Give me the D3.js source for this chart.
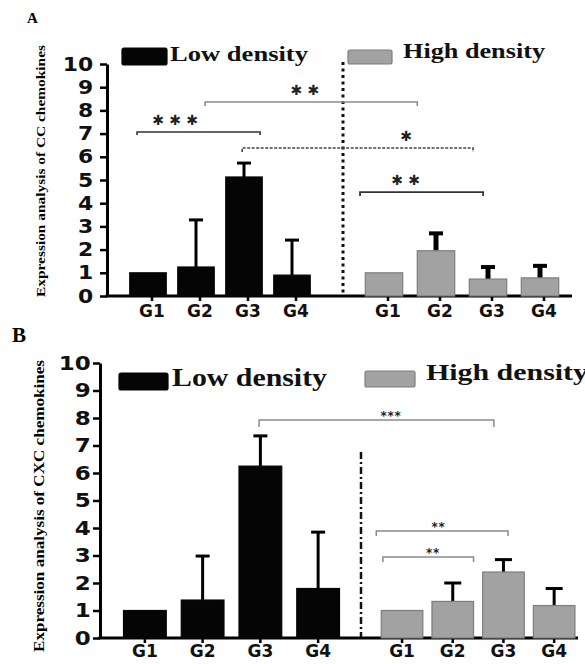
<!DOCTYPE html>
<html><head><meta charset="utf-8">
<script src="https://cdn.jsdelivr.net/npm/d3@7"></script>
<style>body{margin:0;background:#fff}svg{display:block}</style>
</head><body>
<script>
// ---------- data ----------
const categories = ["G1","G2","G3","G4"];
const yTicks = [0,1,2,3,4,5,6,7,8,9,10];
// Panel A: CC chemokines
const ccLow      = [1.00, 1.25, 5.13, 0.90];
const ccLowErr   = [0.00, 2.03, 0.60, 1.51];
const ccHigh     = [1.00, 1.95, 0.73, 0.78];
const ccHighErr  = [0.00, 0.75, 0.52, 0.52];
// Panel B: CXC chemokines
const cxcLow     = [1.00, 1.38, 6.25, 1.80];
const cxcLowErr  = [0.00, 1.60, 1.10, 2.05];
const cxcHigh    = [1.00, 1.33, 2.40, 1.18];
const cxcHighErr = [0.00, 0.67, 0.45, 0.62];
// significance brackets: [group, category, fraction across band]
const sigA = [
  {label:"***", from:["low","G1",0.20], to:["low","G3",0.94],  level:7.07, starPos:0.31},
  {label:"**",  from:["low","G2",0.75], to:["high","G2",0.00], level:8.36, starPos:0.47},
  {label:"*",   from:["low","G3",0.45], to:["high","G3",0.10], level:6.38, starPos:0.71},
  {label:"**",  from:["high","G1",-0.14], to:["high","G3",0.37], level:4.48, starPos:0.37}
];
const sigB = [
  {label:"***", from:["low","G3",0.47], to:["high","G3",0.27], level:7.93, starPos:0.56},
  {label:"**",  from:["high","G1",-0.12], to:["high","G3",0.61], level:3.89, starPos:0.47},
  {label:"**",  from:["high","G1",0.04], to:["high","G2",1.00], level:2.95, starPos:0.55}
];
const legendLabels = ["Low density","High density"];

// ---------- drawing ----------
const W = 585, H = 664;
const svg = d3.select("body").append("svg").attr("width", W).attr("height", H);
const LOWC = "#050505", HIGHC = "#a2a2a2", HIGHS = "#7d7d7d";
const serif = "'Liberation Serif','Times New Roman',serif";
const sans = "'DejaVu Sans',sans-serif";

function panel(cfg) {
  const g = svg.append("g");
  const y = d3.scaleLinear().domain([0,10]).range([cfg.y0, cfg.y10]);
  const xs = {
    low: d3.scaleBand().domain(categories).range(cfg.lowRange).paddingInner(cfg.lowPad).paddingOuter(cfg.lowPad/2),
    high: d3.scaleBand().domain(categories).range(cfg.highRange).paddingInner(cfg.highPad).paddingOuter(cfg.highPad/2)
  };

  // panel letter
  g.append("text").attr("x", cfg.letter[0]).attr("y", cfg.letter[1])
    .attr("font-family", serif).attr("font-weight", "bold").attr("font-size", cfg.letterSize)
    .text(cfg.letterText);

  // y title
  g.append("text")
    .attr("transform", `translate(${cfg.titleX},${cfg.titleY}) rotate(-90)`)
    .attr("text-anchor", "middle")
    .attr("font-family", serif).attr("font-weight", "bold").attr("font-size", cfg.titleSize)
    .attr("textLength", cfg.titleLen).attr("lengthAdjust", "spacingAndGlyphs")
    .text(cfg.title);

  // y axis
  const ya = g.append("g").attr("transform", `translate(${cfg.axisX},0)`)
    .call(d3.axisLeft(y).tickValues(yTicks).tickSize(7).tickSizeOuter(0).tickPadding(cfg.yPad));
  ya.select(".domain").attr("stroke", "#000").attr("stroke-width", 3);
  ya.selectAll(".tick line").attr("stroke", "#000").attr("stroke-width", 2.5);
  ya.selectAll(".tick text").attr("font-family", sans).attr("font-weight", "bold")
    .attr("font-size", cfg.tickSize).attr("fill", "#111")
    .attr("transform", "scale(1.15,1)");

  // baseline
  g.append("line").attr("x1", cfg.axisX - 1.5).attr("x2", cfg.baseEnd)
    .attr("y1", y(0)).attr("y2", y(0)).attr("stroke", "#000").attr("stroke-width", 3);

  // x axes
  ["low","high"].forEach(k => {
    const xa = g.append("g").attr("transform", `translate(${cfg.xLabelShift},${y(0)})`)
      .call(d3.axisBottom(xs[k]).tickSize(5).tickSizeOuter(0).tickPadding(cfg.xPad));
    xa.select(".domain").remove();
    xa.selectAll(".tick line").attr("stroke", "#000").attr("stroke-width", 2.5);
    xa.selectAll(".tick text").attr("font-family", sans).attr("font-weight", "bold")
      .attr("font-size", 17).attr("fill", "#111");
  });

  // bars
  const groups = [
    {k:"low", vals:cfg.low, errs:cfg.lowErr, fill:LOWC, stroke:LOWC, stem:3, cap:14, capW:3},
    {k:"high", vals:cfg.high, errs:cfg.highErr, fill:HIGHC, stroke:HIGHS, stem:cfg.highStem, cap:cfg.highCap, capW:cfg.highCapW}
  ];
  groups.forEach(gr => {
    const x = xs[gr.k];
    const rows = categories.map((c,i) => ({c, v:gr.vals[i], e:gr.errs[i]}));
    rows.filter(d => d.e > 0).forEach(d => {
      const cx = x(d.c) + x.bandwidth()/2;
      g.append("line").attr("x1", cx).attr("x2", cx).attr("y1", y(d.v)).attr("y2", y(d.v + d.e))
        .attr("stroke", "#000").attr("stroke-width", gr.stem);
      g.append("line").attr("x1", cx - gr.cap/2).attr("x2", cx + gr.cap/2)
        .attr("y1", y(d.v + d.e)).attr("y2", y(d.v + d.e))
        .attr("stroke", "#000").attr("stroke-width", gr.capW);
    });
    g.selectAll(null).data(rows).enter().append("rect")
      .attr("x", d => x(d.c)).attr("width", x.bandwidth())
      .attr("y", d => y(d.v)).attr("height", d => y(0) - y(d.v))
      .attr("fill", gr.fill).attr("stroke", gr.stroke).attr("stroke-width", 1.2);
  });

  // divider
  g.append("line").attr("x1", cfg.divX).attr("x2", cfg.divX)
    .attr("y1", cfg.divTop).attr("y2", y(0) - 1)
    .attr("stroke", "#111").attr("stroke-width", cfg.divW).attr("stroke-dasharray", cfg.divDash);

  // legend
  cfg.legend.forEach((L, i) => {
    g.append("rect").attr("x", L.rect[0]).attr("y", L.rect[1]).attr("width", L.rect[2]).attr("height", L.rect[3])
      .attr("rx", 2).attr("fill", i === 0 ? LOWC : HIGHC).attr("stroke", i === 0 ? LOWC : HIGHS).attr("stroke-width", 1.2);
    g.append("text").attr("x", L.text[0]).attr("y", L.text[1])
      .attr("font-family", serif).attr("font-weight", "bold").attr("font-size", L.size)
      .attr("textLength", L.len).attr("lengthAdjust", "spacingAndGlyphs").attr("fill", "#111")
      .text(legendLabels[i]);
  });

  // significance brackets
  const px = p => xs[p[0]](p[1]) + p[2] * xs[p[0]].bandwidth();
  cfg.sig.forEach((s, i) => {
    const st = cfg.sigStyle[i];
    const x1 = px(s.from), x2 = px(s.to), yy = y(s.level);
    const path = d3.path();
    path.moveTo(x1, yy + st.tick); path.lineTo(x1, yy); path.lineTo(x2, yy); path.lineTo(x2, yy + st.tick);
    g.append("path").attr("d", path.toString()).attr("fill", "none")
      .attr("stroke", st.color).attr("stroke-width", st.w)
      .attr("stroke-dasharray", st.dash || null);
    const sx = x1 + s.starPos * (x2 - x1);
    const n = s.label.length;
    for (let j = 0; j < n; j++) {
      g.append("text").attr("x", sx + (j - (n-1)/2) * cfg.starGap).attr("y", yy - cfg.starUp)
        .attr("text-anchor", "middle").attr("font-family", cfg.starFont).attr("font-weight", cfg.starWeight)
        .attr("font-size", cfg.starSize).attr("fill", "#222").text(cfg.starGlyph);
    }
  });
}

panel({
  letterText:"A", letter:[27,23], letterSize:15,
  title:"Expression analysis of CC chemokines", titleX:45, titleY:171, titleSize:13, titleLen:252,
  y0:296, y10:64, axisX:107, tickSize:19, yPad:5, baseEnd:572,
  lowRange:[124,316], lowPad:0.24, highRange:[358,566], highPad:0.28,
  xLabelShift:4, xPad:4,
  low:ccLow, lowErr:ccLowErr, high:ccHigh, highErr:ccHighErr,
  highStem:5, highCap:14, highCapW:4,
  divX:343, divTop:62, divW:3, divDash:"3,3.5",
  legend:[
    {rect:[122,48,45,17], text:[170,61], size:21, len:138},
    {rect:[348,50,44,14], text:[403,58], size:21, len:142}
  ],
  sig:sigA,
  sigStyle:[
    {color:"#333", w:1.6, tick:3},
    {color:"#8a8a8a", w:1.6, tick:4},
    {color:"#444", w:1.6, tick:4, dash:"3,1.5"},
    {color:"#333", w:1.8, tick:4}
  ],
  starGlyph:"✱", starFont:"'DejaVu Sans',sans-serif", starWeight:"normal", starSize:14, starGap:17, starUp:7
});

panel({
  letterText:"B", letter:[12,342], letterSize:21,
  title:"Expression analysis of CXC chemokines", titleX:44, titleY:506, titleSize:14, titleLen:292,
  y0:638, y10:363, axisX:100, tickSize:20, yPad:1, baseEnd:578,
  lowRange:[116,347], lowPad:0.26, highRange:[376.7,579.5], highPad:0.18,
  xLabelShift:0, xPad:2,
  low:cxcLow, lowErr:cxcLowErr, high:cxcHigh, highErr:cxcHighErr,
  highStem:3, highCap:17, highCapW:3,
  divX:361, divTop:452, divW:2.5, divDash:"7,3,2,3",
  legend:[
    {rect:[119,373,49,17], text:[172,386], size:25, len:155},
    {rect:[365,371,50,16], text:[426,380], size:24, len:162}
  ],
  sig:sigB,
  sigStyle:[
    {color:"#8a8a8a", w:1.5, tick:7},
    {color:"#8a8a8a", w:1.5, tick:5},
    {color:"#8a8a8a", w:1.5, tick:5}
  ],
  starGlyph:"*", starFont:sans, starWeight:"bold", starSize:12, starGap:7, starUp:0
});
</script>
</body></html>
